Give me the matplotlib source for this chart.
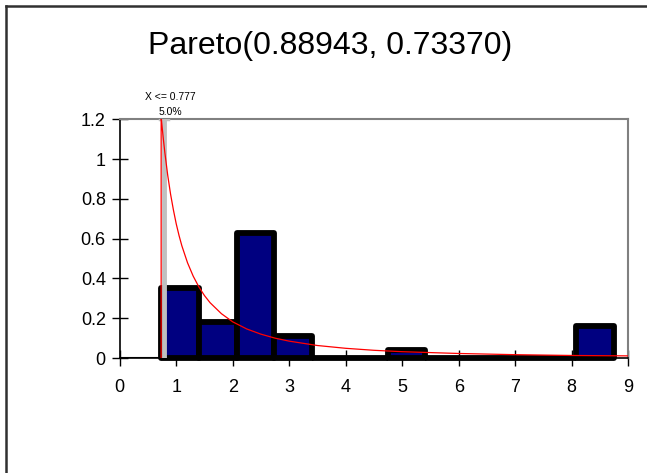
import matplotlib.pyplot as plt
from matplotlib.lines import Line2D

# histogram bins (left edges) and densities
bin_left = [0.734, 1.402, 2.070, 2.738, 3.406, 4.074, 4.742, 5.410, 6.078, 6.746, 7.414, 8.082]
bin_width = 0.668
density = [0.35, 0.18, 0.63, 0.11, 0.0, 0.0, 0.04, 0.0, 0.0, 0.0, 0.0, 0.16]

# fitted pareto curve
curve_x = [0.7337, 0.7337, 0.75, 0.775, 0.8, 0.85, 0.9, 0.95, 1.0, 1.05, 1.1, 1.2, 1.3,
           1.4, 1.5, 1.6, 1.8, 2.0, 2.25, 2.5, 2.75, 3.0, 3.5, 4.0, 4.5, 5.0, 6.0, 7.0, 8.0, 9.0]
curve_y = [0.0, 1.213, 1.163, 1.094, 1.030, 0.918, 0.824, 0.745, 0.675, 0.616, 0.564,
           0.479, 0.412, 0.358, 0.314, 0.278, 0.223, 0.182, 0.146, 0.120, 0.100, 0.085,
           0.063, 0.049, 0.039, 0.032, 0.023, 0.017, 0.013, 0.011]

marker_x = 0.777
marker_text = "X <= 0.777"
marker_pct = "5.0%"
title = "Pareto(0.88943, 0.73370)"

plt.rcParams["font.family"] = ["Liberation Sans", "DejaVu Sans"]

fig = plt.figure(figsize=(6.47, 4.73), dpi=100)
fig.patch.set_facecolor("white")
ax = fig.add_axes([0.185, 0.243, 0.786, 0.505])

ax.plot([0, bin_left[0]], [0, 0], color="black", linewidth=1.5, zorder=2)
ax.bar(bin_left, density, width=bin_width, align="edge", color="#000080",
       edgecolor="black", linewidth=4.2, joinstyle="round", zorder=3, clip_on=False)

ax.plot([marker_x, marker_x], [0, 1.2], color="#c0c0c0", linewidth=3.5, zorder=4,
        solid_capstyle="butt")
ax.plot([marker_x - 0.07, marker_x + 0.07], [1.2, 1.2], color="#c0c0c0", linewidth=2.5, zorder=4)

ax.plot(curve_x, curve_y, color="red", linewidth=0.9, zorder=5)

ax.text(marker_x + 0.12, 1.31, marker_text, ha="center", va="center", fontsize=7.5)
ax.text(marker_x + 0.12, 1.235, marker_pct, ha="center", va="center", fontsize=7.5)

ax.set_xlim(0, 9)
ax.set_ylim(0, 1.2)
ax.set_xticks(range(0, 10))
ax.set_yticks([0, 0.2, 0.4, 0.6, 0.8, 1.0, 1.2])
ax.set_yticklabels(["0", "0.2", "0.4", "0.6", "0.8", "1", "1.2"])
ax.tick_params(axis="both", direction="inout", length=12, width=1, labelsize=13, pad=4)
ax.tick_params(axis="x", pad=9)

for side in ["top", "right"]:
    ax.spines[side].set_color("#808080")
    ax.spines[side].set_linewidth(1.5)
for side in ["left", "bottom"]:
    ax.spines[side].set_color("black")
    ax.spines[side].set_linewidth(1.2)

fig.text(0.51, 0.903, title, ha="center", va="center", fontsize=23)

# outer chart border (left and top edges only visible)
fig.add_artist(Line2D([0.009, 0.009], [0, 0.987], color="#303030", linewidth=1.8,
                      transform=fig.transFigure))
fig.add_artist(Line2D([0.009, 1], [0.987, 0.987], color="#303030", linewidth=1.8,
                      transform=fig.transFigure))

plt.savefig("out.png", dpi=100, facecolor=fig.get_facecolor())
plt.close()
